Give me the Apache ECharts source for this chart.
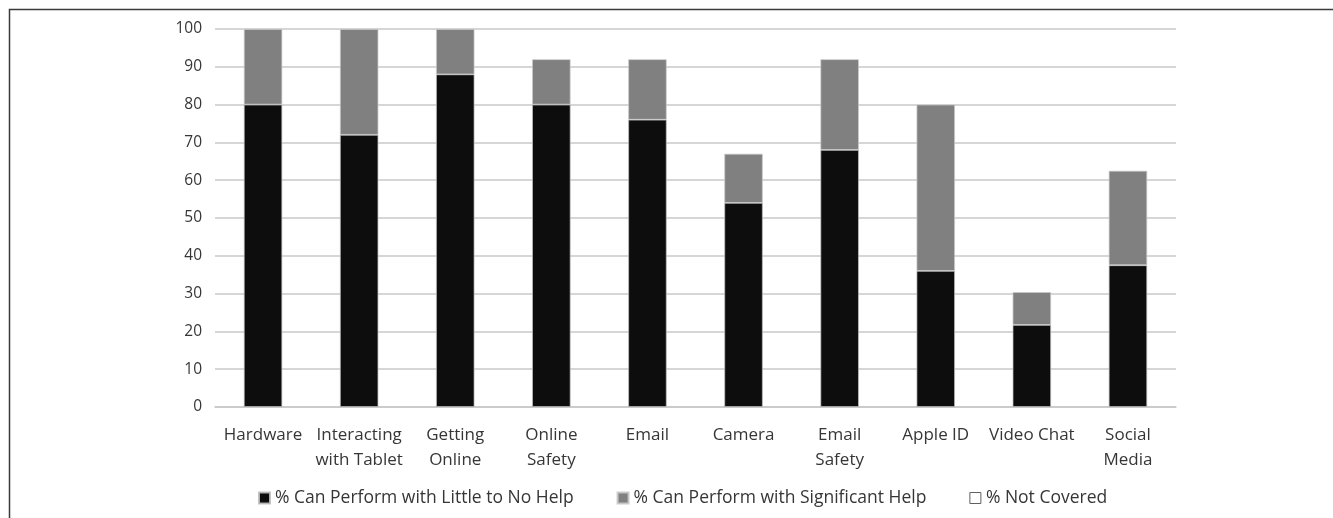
<!DOCTYPE html>
<html>
<head>
<meta charset="utf-8">
<script src="https://cdn.jsdelivr.net/npm/echarts@6/dist/echarts.min.js"></script>
<style>
html,body{margin:0;padding:0;background:#fff;}
#chart{width:1333px;height:518px;}
</style>
</head>
<body>
<div id="chart"></div>
<script>
const categories = ['Hardware','Interacting\nwith Tablet','Getting\nOnline','Online\nSafety','Email','Camera','Email\nSafety','Apple ID','Video Chat','Social\nMedia'];
const littleHelp = [80, 72, 88, 80, 76, 54, 68, 36, 21.7, 37.5];
const significantHelp = [20, 28, 12, 12, 16, 13, 24, 44, 8.7, 25];
const notCovered = [0, 0, 0, 8, 8, 33, 8, 20, 69.6, 37.5];
const seriesNames = ['% Can Perform with Little to No Help','% Can Perform with Significant Help','% Not Covered'];
const yTicks = [0,10,20,30,40,50,60,70,80,90,100];

const FONT = '"Open Sans", sans-serif';
const TXT = '#363636';
const chart = echarts.init(document.getElementById('chart'));
chart.setOption({
  animation: false,
  backgroundColor: '#ffffff',
  textStyle: {fontFamily: FONT},
  graphic: [{
    type: 'rect', silent: true,
    shape: {x: 9.5, y: 9.5, width: 1400, height: 600},
    style: {fill: 'none', stroke: '#3a3a3a', lineWidth: 1.5}
  }],
  grid: {left: 215, right: 157, top: 29, bottom: 111, containLabel: false},
  legend: {
    bottom: 6, left: 253,
    itemWidth: 11, itemHeight: 11, itemGap: 43,
    icon: 'rect',
    textStyle: {fontFamily: FONT, fontSize: 17.5, color: TXT},
    data: [
      {name: seriesNames[0], itemStyle: {color: '#0d0d0d'}},
      {name: seriesNames[1], itemStyle: {color: '#808080'}},
      {name: seriesNames[2], itemStyle: {color: '#ffffff', borderColor: '#606060', borderWidth: 1}}
    ]
  },
  xAxis: {
    type: 'category', data: categories,
    axisLine: {lineStyle: {color: '#c8c8c8', width: 1.5}},
    axisTick: {show: false},
    axisLabel: {interval: 0, color: TXT, fontFamily: FONT, fontSize: 17, lineHeight: 25, margin: 16}
  },
  yAxis: {
    type: 'value', min: 0, max: 100, interval: 10,
    axisLine: {show: false}, axisTick: {show: false},
    splitLine: {lineStyle: {color: '#c8c8c8', width: 1.5}},
    axisLabel: {color: TXT, fontFamily: FONT, fontSize: 15.5, margin: 13,
      formatter: v => yTicks.includes(v) ? String(v) : ''}
  },
  series: [
    {name: seriesNames[0], type: 'bar', stack: 't', data: littleHelp, barWidth: '40%',
      itemStyle: {color: '#0d0d0d', borderColor: 'rgba(190,190,190,0.9)', borderWidth: 0.8}},
    {name: seriesNames[1], type: 'bar', stack: 't', data: significantHelp,
      itemStyle: {color: '#808080', borderColor: 'rgba(200,200,200,0.9)', borderWidth: 0.8}},
    {name: seriesNames[2], type: 'bar', stack: 't', data: notCovered,
      itemStyle: {color: 'rgba(255,255,255,0)', borderWidth: 0}}
  ]
});
</script>
</body>
</html>
